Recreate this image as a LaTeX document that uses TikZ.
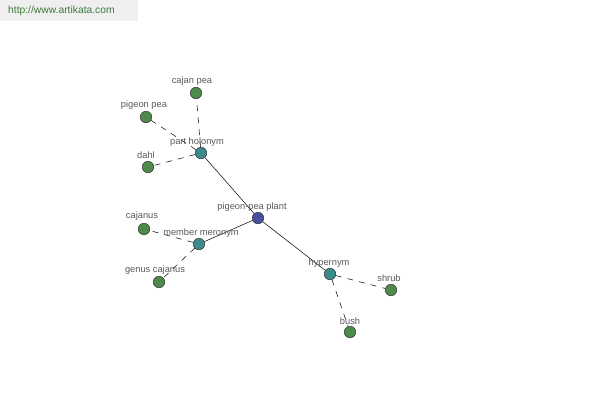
\documentclass[tikz,border=0pt]{standalone}
\usepackage{fontspec}
\setmainfont{Liberation Sans}
\begin{document}
\begin{tikzpicture}[x=1pt,y=-1pt,
  dot/.style={circle,draw=black!80,line width=0.5pt,inner sep=0pt,minimum size=11.5pt},
  leaf/.style={dot,fill=leafgreen},
  rel/.style={dot,fill=relteal},
  root/.style={dot,fill=rootblue},
  lbl/.style={font=\fontsize{9.3}{10}\selectfont,text=black!65,inner sep=0pt},
  solidedge/.style={draw=black,line width=0.5pt},
  dashedge/.style={draw=black,line width=0.5pt,dash pattern=on 6pt off 6pt}]
\definecolor{leafgreen}{HTML}{4E8B4A}
\definecolor{relteal}{HTML}{3C8C8C}
\definecolor{rootblue}{HTML}{4A4E9E}
\definecolor{hdrgray}{HTML}{EFEFEF}
\definecolor{hdrtext}{HTML}{3F7A3A}
\useasboundingbox (0,0) rectangle (600,400);
\fill[hdrgray] (0,0) rectangle (138,21);
\node[anchor=west,font=\fontsize{10.3}{11}\selectfont,text=hdrtext,inner sep=0pt] (hdr) at (8,11) {http://www.artikata.com};
% nodes
\node[root] (plant) at (258,218) {};
\node[rel] (part) at (201,153) {};
\node[rel] (member) at (199,244) {};
\node[rel] (hyper) at (330,274) {};
\node[leaf] (cajanpea) at (196,93) {};
\node[leaf] (pigeonpea) at (146,117) {};
\node[leaf] (dahl) at (148,167) {};
\node[leaf] (cajanus) at (144,229) {};
\node[leaf] (genus) at (159,282) {};
\node[leaf] (shrub) at (391,290) {};
\node[leaf] (bush) at (350,332) {};
% edges
\draw[solidedge] (plant) -- (part);
\draw[solidedge] (plant) -- (member);
\draw[solidedge] (plant) -- (hyper);
\draw[dashedge] (part) -- (cajanpea);
\draw[dashedge] (part) -- (pigeonpea);
\draw[dashedge] (part) -- (dahl);
\draw[dashedge] (member) -- (cajanus);
\draw[dashedge] (member) -- (genus);
\draw[dashedge] (hyper) -- (shrub);
\draw[dashedge] (hyper) -- (bush);
% labels
\node[lbl] (lplant) at (252,207) {pigeon-pea plant};
\node[lbl] (lpart) at (197,142) {part holonym};
\node[lbl] (lmember) at (201,233) {member meronym};
\node[lbl] (lhyper) at (329,263) {hypernym};
\node[lbl] (lcajanpea) at (192,81) {cajan pea};
\node[lbl] (lpigeonpea) at (144,105) {pigeon pea};
\node[lbl] (ldahl) at (146,155) {dahl};
\node[lbl] (lcajanus) at (142,216) {cajanus};
\node[lbl] (lgenus) at (155,270) {genus cajanus};
\node[lbl] (lshrub) at (389,278) {shrub};
\node[lbl] (lbush) at (350,321) {bush};
\end{tikzpicture}
\end{document}
